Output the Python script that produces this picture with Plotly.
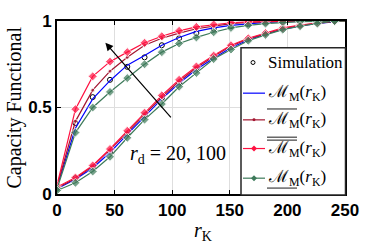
import plotly.graph_objects as go

# ---------------- data ----------------
r_K = [0, 16, 31, 46, 61, 76, 91, 106, 121, 136, 151, 166, 181, 196, 211, 226, 241, 250]

# r_d = 20 (upper group)
sim_20   = [0.04, 0.41, 0.56, 0.66, 0.735, 0.79, 0.86, 0.90, 0.93, 0.955, 0.97, 0.982, 0.99, 0.995, 0.998, 1.0, 1.0, 1.0]
M_20     = [0.04, 0.38, 0.55, 0.655, 0.745, 0.80, 0.86, 0.905, 0.94, 0.96, 0.975, 0.985, 0.992, 0.996, 0.998, 1.0, 1.0, 1.0]
Mbar_20  = [0.045, 0.42, 0.60, 0.71, 0.79, 0.86, 0.90, 0.93, 0.955, 0.972, 0.985, 0.992, 0.996, 0.998, 1.0, 1.0, 1.0, 1.0]
Mbb_20   = [0.05, 0.49, 0.68, 0.765, 0.82, 0.874, 0.912, 0.943, 0.966, 0.98, 0.99, 0.995, 0.998, 1.0, 1.0, 1.0, 1.0, 1.0]
Mund_20  = [0.03, 0.355, 0.50, 0.59, 0.67, 0.75, 0.82, 0.87, 0.905, 0.935, 0.96, 0.975, 0.985, 0.992, 0.996, 0.998, 1.0, 1.0]

# r_d = 100 (lower group)
sim_100  = [0.03, 0.09, 0.155, 0.245, 0.35, 0.455, 0.555, 0.645, 0.725, 0.79, 0.85, 0.893, 0.927, 0.955, 0.974, 0.988, 0.997, 1.0]
M_100    = [0.03, 0.085, 0.15, 0.24, 0.345, 0.45, 0.55, 0.64, 0.72, 0.785, 0.845, 0.89, 0.925, 0.952, 0.972, 0.986, 0.995, 1.0]
Mbar_100 = [0.035, 0.09, 0.16, 0.255, 0.355, 0.46, 0.56, 0.65, 0.73, 0.795, 0.855, 0.897, 0.928, 0.955, 0.975, 0.988, 0.997, 1.0]
Mbb_100  = [0.04, 0.095, 0.165, 0.26, 0.365, 0.47, 0.57, 0.66, 0.737, 0.80, 0.86, 0.90, 0.93, 0.96, 0.977, 0.99, 1.0, 1.0]
Mund_100 = [0.02, 0.065, 0.13, 0.215, 0.325, 0.43, 0.52, 0.62, 0.70, 0.78, 0.835, 0.886, 0.92, 0.95, 0.97, 0.985, 1.0, 1.0]

x_ticks = [0, 50, 100, 150, 200, 250]
y_ticks = [0, 0.5, 1]
y_tick_labels = ["0", "0.5", "1"]

# arrow (data coords): tail -> head
arrow_tail = (100, 0.434)
arrow_head = (42, 0.874)

BLUE = "#0000ff"
DRED = "#a2142f"
RED = "#ff1040"
GREEN = "#3d7a5a"
SERIF = "Liberation Serif, DejaVu Serif, serif"

fig = go.Figure()

def msizes(s):
    return [s] * (len(r_K) - 1) + [0]

for sim in (sim_20, sim_100):
    fig.add_trace(go.Scatter(x=r_K[:-1], y=sim[:-1], mode="markers",
                             marker=dict(symbol="circle-open", size=5, color="black", line=dict(width=1)),
                             showlegend=False))
for M in (M_20, M_100):
    fig.add_trace(go.Scatter(x=r_K, y=M, mode="lines", line=dict(color=BLUE, width=1.2), showlegend=False))
for M in (Mbar_20, Mbar_100):
    fig.add_trace(go.Scatter(x=r_K, y=M, mode="lines+markers", line=dict(color=DRED, width=1.2),
                             marker=dict(symbol="circle", size=msizes(4), color=DRED), showlegend=False))
for M in (Mbb_20, Mbb_100):
    fig.add_trace(go.Scatter(x=r_K, y=M, mode="lines+markers", line=dict(color=RED, width=1.2),
                             marker=dict(symbol="diamond", size=msizes(7), color=RED), showlegend=False))
for M in (Mund_20, Mund_100):
    fig.add_trace(go.Scatter(x=r_K, y=M, mode="lines+markers", line=dict(color=GREEN, width=1.2),
                             marker=dict(symbol="diamond", size=msizes(7), color=GREEN), showlegend=False))

# arrow
fig.add_annotation(x=arrow_head[0], y=arrow_head[1], ax=arrow_tail[0], ay=arrow_tail[1],
                   xref="x", yref="y", axref="x", ayref="y", text="", showarrow=True,
                   arrowhead=2, arrowsize=1.3, arrowwidth=1.2, arrowcolor="black")
fig.add_annotation(x=62, y=0.23, xref="x", yref="y", xanchor="left", yanchor="middle",
                   text="<i>r</i><sub>d</sub> = 20, 100", showarrow=False,
                   font=dict(family=SERIF, size=20, color="black"))

# axis titles
fig.add_annotation(x=-0.149, y=0.5, xref="paper", yref="paper", xanchor="center", yanchor="middle",
                   text="Capacity Functional", textangle=-90, showarrow=False,
                   font=dict(family=SERIF, size=20, color="black"))
fig.add_annotation(x=0.507, y=-0.217, xref="paper", yref="paper", xanchor="center", yanchor="middle",
                   text="<i>r</i><sub>K</sub>", showarrow=False,
                   font=dict(family=SERIF, size=20, color="black"))

# ---------- manual legend ----------
def px2x(p):
    return (p - 57) / 288.0

def py2y(p):
    return (194 - p) / 175.0

fig.add_shape(type="rect", xref="paper", yref="paper", x0=px2x(241), x1=px2x(345.5),
              y0=py2y(195), y1=py2y(46), fillcolor="white", line=dict(color="#262626", width=1.5))

rows = [61, 92, 119, 148, 178]
lab = "ℳ<sub>M</sub>(<i>r</i><sub>K</sub>)"
labels = ["Simulation", lab, lab, lab, lab]
colors = [None, BLUE, DRED, RED, GREEN]
for i, (py, t) in enumerate(zip(rows, labels)):
    yy = py2y(py)
    if i == 0:
        fig.add_shape(type="circle", xref="paper", yref="paper",
                      x0=px2x(251), x1=px2x(255), y0=py2y(py + 2), y1=py2y(py - 2),
                      line=dict(color="black", width=1))
    else:
        fig.add_shape(type="line", xref="paper", yref="paper", x0=px2x(243), x1=px2x(265),
                      y0=yy, y1=yy, line=dict(color=colors[i], width=1.2))
        if i == 2:
            fig.add_shape(type="circle", xref="paper", yref="paper", fillcolor=DRED,
                          x0=px2x(252.5), x1=px2x(255.5), y0=py2y(py + 1.5), y1=py2y(py - 1.5),
                          line=dict(color=DRED, width=0))
        if i in (3, 4):
            fig.add_shape(type="path", xref="paper", yref="paper", fillcolor=colors[i],
                          path="M {a},{b} L {c},{d} L {a},{e} L {f},{d} Z".format(
                              a=px2x(254), b=py2y(py - 3), c=px2x(257), d=yy, e=py2y(py + 3), f=px2x(251)),
                          line=dict(color=colors[i], width=0))
    fig.add_annotation(x=px2x(266), y=yy, xref="paper", yref="paper", xanchor="left", yanchor="middle",
                       text=t, showarrow=False, font=dict(family=SERIF, size=17, color="black"))

# overlines / underline
ol_x0, ol_x1 = px2x(267), px2x(297)
for py in (108, 136.5, 139.5):
    fig.add_shape(type="line", xref="paper", yref="paper", x0=ol_x0, x1=ol_x1,
                  y0=py2y(py), y1=py2y(py), line=dict(color="black", width=0.9))
fig.add_shape(type="line", xref="paper", yref="paper", x0=ol_x0, x1=ol_x1,
              y0=py2y(188), y1=py2y(188), line=dict(color="black", width=0.9))

axis_common = dict(showline=True, linecolor="black", linewidth=1.6, mirror="ticks",
                   ticks="inside", ticklen=4, tickcolor="black", tickwidth=1,
                   showgrid=True, gridcolor="#dedede", gridwidth=1, zeroline=False,
                   tickfont=dict(family="Liberation Sans, Arial, sans-serif", size=17, color="black", weight="bold"))

fig.update_xaxes(range=[0, 250], tickvals=x_ticks, **axis_common)
fig.update_yaxes(range=[0, 1], tickvals=y_ticks, ticktext=y_tick_labels, **axis_common)

fig.update_layout(width=382, height=246, margin=dict(l=57, r=37, t=19, b=52, pad=0),
                  plot_bgcolor="white", paper_bgcolor="white", showlegend=False)

fig.write_html("out.html", config={"displayModeBar": False},
               post_script="document.body.style.margin='0px';document.body.style.padding='0px';")
